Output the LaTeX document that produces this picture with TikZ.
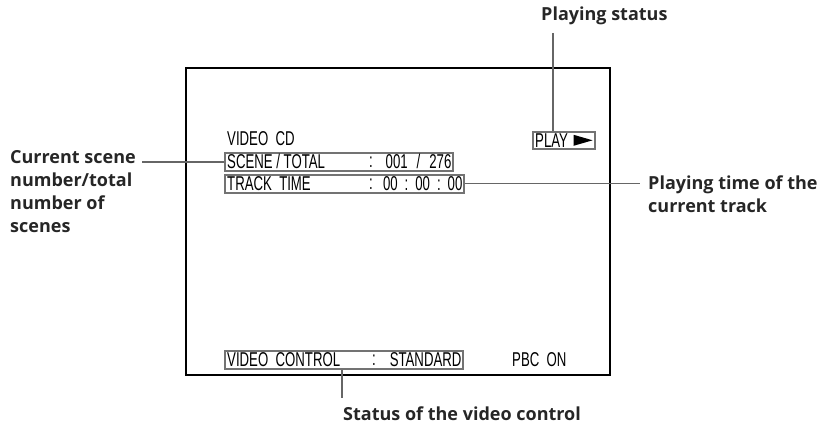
\documentclass[tikz,border=0pt]{standalone}
\usepackage{fontspec}
\usetikzlibrary{calc}
\newfontfamily\labelfont{Open Sans}
\newfontfamily\screenfont[FakeStretch=0.66]{Liberation Sans}

\begin{document}
\begin{tikzpicture}[x=1pt, y=-1pt,
  callout/.style={font=\labelfont\bfseries\fontsize{18}{23}\selectfont, align=left, inner sep=0pt, text=black!85},
  osd/.style={font=\screenfont\fontsize{20}{20}\selectfont, inner sep=0pt},
  osdbox/.style={draw=black!55, line width=1.6pt, inner sep=0pt, minimum height=18pt, anchor=north west},
  leader/.style={draw=black!60, line width=1.4pt}]

% --- Define variables with \def ---
\def\textPad{3pt}
\def\colonPad{145pt}
\def\gap{\hspace{7pt}}

\useasboundingbox (0,0) rectangle (840,430);

% --- The screen ---
\node[draw, line width=1.6pt, inner sep=0pt, minimum width=424pt, minimum height=307pt,
      anchor=north west] (screen) at (185,67) {};

% --- On-screen boxes ---
\node[osdbox, minimum width=228pt] (scene) at (224,152) {};
\node[osdbox, minimum width=239pt] (track) at (224,174) {};
\node[osdbox, minimum width=238pt] (vcbox) at (224,350) {};
\node[osdbox, minimum width=62pt, minimum height=17pt] (play) at (532,131) {};

% --- On-screen texts ---
\node[osd, anchor=west] (vcd) at (227,139) {VIDEO\ \ CD};
\node[osd, anchor=west] (scenetxt) at ([xshift=\textPad]scene.west) {SCENE / TOTAL};
\node[osd, anchor=west] (scenecol) at ([xshift=\colonPad]scene.west) {:};
\node[osd, anchor=east] (sceneval) at ([xshift=-2pt]scene.east) {001\hspace{9pt}/\hspace{9pt}276};
\node[osd, anchor=west] (tracktxt) at ([xshift=\textPad]track.west) {TRACK\ \ TIME};
\node[osd, anchor=west] (trackcol) at ([xshift=\colonPad]track.west) {:};
\node[osd, anchor=east] (trackval) at ([xshift=-2pt]track.east) {00\gap:\gap00\gap:\gap00};
\node[osd, anchor=west] (vctxt) at ([xshift=\textPad]vcbox.west) {VIDEO\ \ CONTROL};
\node[osd, anchor=west] (vccol) at ([xshift=148pt]vcbox.west) {:};
\node[osd, anchor=east] (vcval) at ([xshift=-2pt]vcbox.east) {STANDARD};
\node[osd, anchor=west] (playtxt) at ([xshift=3pt]play.west) {PLAY};
\fill ([xshift=-3pt]play.east) -- ++(-19,-5.5) -- ++(0,11) -- cycle;
\node[osd, anchor=west] (pbc) at ([xshift=288pt]vcbox.west) {PBC\ \ ON};

% --- Callouts ---
\node[callout, anchor=north west] (scenelbl) at (10,150) {Current scene\\number/total\\number of\\scenes};
\node[callout, anchor=north west] (tracklbl) at (648,176) {Playing time of the\\current track};
\node[callout, anchor=north west] (playlbl) at (541,7) {Playing status};
\node[callout, anchor=north west] (vclbl) at (343,407) {Status of the video control};

% --- Leader lines ---
\coordinate (scenelead) at (142,162);
\coordinate (tracklead) at (640,183);
\coordinate (playlead) at (553,33);
\coordinate (vclead) at (342,398);
\draw[leader] (scenelead) -- (scenelead -| scene.west);
\draw[leader] (track.east) -- (tracklead |- track.east);
\draw[leader] (playlead) -- (playlead |- play.north);
\draw[leader] (vclead |- vcbox.south) -- (vclead);

\end{tikzpicture}
\end{document}
